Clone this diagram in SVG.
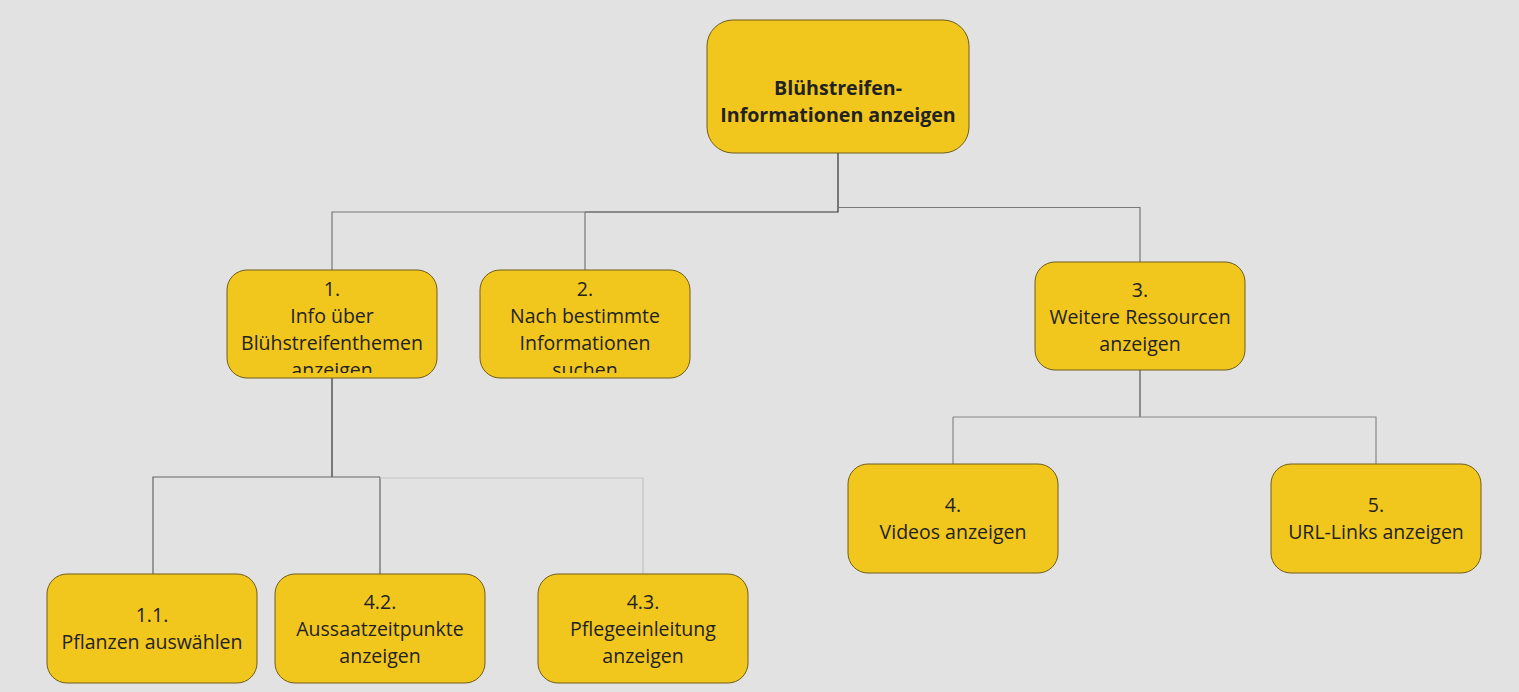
<svg xmlns="http://www.w3.org/2000/svg" width="1519" height="692" viewBox="0 0 1519 692">
<style>
.box{fill:#F2C71D;stroke:#6e5d1c;stroke-width:1}
.t{font-family:"Open Sans","Noto Sans","Liberation Sans",sans-serif;font-size:19.5px;fill:#222;text-anchor:middle}
.b{font-weight:bold;font-size:19.6px}
.c{fill:none;stroke-width:1.2}
</style>
<defs>
<clipPath id="c1"><rect x="227" y="270" width="210" height="103"/></clipPath>
<clipPath id="c2"><rect x="480" y="270" width="210" height="103"/></clipPath>
</defs>
<rect width="1519" height="692" fill="#E2E2E2"/>
<g id="connectors">
<path class="c" stroke="#333" d="M838 153V212H585"/>
<path class="c" stroke="#777" d="M585 212H332V270M585 212V270"/>
<path class="c" stroke="#777" d="M838 207.5H1140V262"/>
<path class="c" stroke="#333" d="M332 378V477"/>
<path class="c" stroke="#666" d="M380 477H153V574M380 477V574"/>
<path class="c" stroke="#c4c4c4" d="M380 478H643V574"/>
<path class="c" stroke="#555" d="M1140 370V417"/>
<path class="c" stroke="#888" d="M953 417H1376V464M953 417V464"/>
</g>
<g id="root">
<rect class="box" x="707" y="20" width="262" height="133" rx="26"/>
<text class="t b" x="838" y="95">Blühstreifen-</text>
<text class="t b" x="838" y="122">Informationen anzeigen</text>
</g>
<g id="n1">
<rect class="box" x="227" y="270" width="210" height="108" rx="20"/>
<g clip-path="url(#c1)">
<text class="t" x="332" y="296">1.</text>
<text class="t" x="332" y="323">Info über</text>
<text class="t" x="332" y="350">Blühstreifenthemen</text>
<text class="t" x="332" y="377">anzeigen</text>
</g>
</g>
<g id="n2">
<rect class="box" x="480" y="270" width="210" height="108" rx="20"/>
<g clip-path="url(#c2)">
<text class="t" x="585" y="296">2.</text>
<text class="t" x="585" y="323">Nach bestimmte</text>
<text class="t" x="585" y="350">Informationen</text>
<text class="t" x="585" y="377">suchen</text>
</g>
</g>
<g id="n3">
<rect class="box" x="1035" y="262" width="210" height="108" rx="20"/>
<text class="t" x="1140" y="297">3.</text>
<text class="t" x="1140" y="324">Weitere Ressourcen</text>
<text class="t" x="1140" y="351">anzeigen</text>
</g>
<g id="n11">
<rect class="box" x="47" y="574" width="210" height="109" rx="20"/>
<text class="t" x="152" y="622">1.1.</text>
<text class="t" x="152" y="649">Pflanzen auswählen</text>
</g>
<g id="n42">
<rect class="box" x="275" y="574" width="210" height="109" rx="20"/>
<text class="t" x="380" y="609">4.2.</text>
<text class="t" x="380" y="636">Aussaatzeitpunkte</text>
<text class="t" x="380" y="663">anzeigen</text>
</g>
<g id="n43">
<rect class="box" x="538" y="574" width="210" height="109" rx="20"/>
<text class="t" x="643" y="609">4.3.</text>
<text class="t" x="643" y="636">Pflegeeinleitung</text>
<text class="t" x="643" y="663">anzeigen</text>
</g>
<g id="n4">
<rect class="box" x="848" y="464" width="210" height="109" rx="20"/>
<text class="t" x="953" y="512">4.</text>
<text class="t" x="953" y="539">Videos anzeigen</text>
</g>
<g id="n5">
<rect class="box" x="1271" y="464" width="210" height="109" rx="20"/>
<text class="t" x="1376" y="512">5.</text>
<text class="t" x="1376" y="539">URL-Links anzeigen</text>
</g>
</svg>
